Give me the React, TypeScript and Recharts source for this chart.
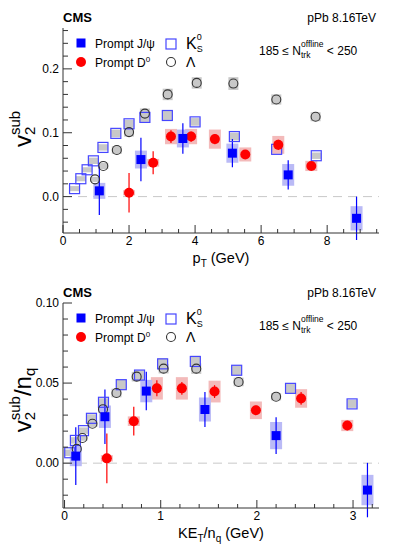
import React from "react";
import { ScatterChart, Scatter, XAxis, YAxis, ErrorBar, ReferenceLine, Legend } from "recharts";

const FONT = "'Liberation Sans', Arial, Helvetica, sans-serif";
const AXIS = "#333";
const BLUE = "#0000ff";
const RED = "#ff0000";
const KBLUE = "#4646ff";
const GRAY_BOX = "#c8c8c8";
const BLUE_BOX = "#babaf6";
const RED_BOX = "#f3baba";

// ---- top panel: v2 vs pT ----
const jpsiPt = [1.1, 2.36, 3.63, 5.13, 6.82, 8.89];
const jpsiV2 = [0.009, 0.058, 0.091, 0.068, 0.034, -0.034];
const jpsiStat = [0.038, 0.034, 0.024, 0.022, 0.023, 0.034];
const jpsiSyst = [0.0125, 0.014, 0.014, 0.015, 0.017, 0.019];

const d0Pt = [2.0, 2.73, 3.27, 3.88, 4.6, 5.52, 6.52, 7.52];
const d0V2 = [0.006, 0.053, 0.094, 0.094, 0.09, 0.066, 0.081, 0.048];
const d0Stat = [0.031, 0.018, 0.01, 0.008, 0.008, 0.006, 0.008, 0.006];
const d0Syst = [0.004, 0.006, 0.012, 0.012, 0.015, 0.011, 0.014, 0.008];

const k0sPt = [0.35, 0.54, 0.73, 0.92, 1.21, 1.6, 2.0, 2.48, 3.16, 4.0, 5.19, 6.47, 7.67];
const k0sV2 = [0.0125, 0.028, 0.042, 0.056, 0.077, 0.099, 0.114, 0.124, 0.127, 0.117, 0.094, 0.074, 0.064];
const k0sSyst = [0.004, 0.004, 0.004, 0.005, 0.005, 0.006, 0.006, 0.007, 0.007, 0.006, 0.006, 0.005, 0.005];

const lamPt = [0.97, 1.22, 1.63, 2.0, 2.48, 3.17, 4.05, 5.16, 6.46, 7.65];
const lamV2 = [0.027, 0.048, 0.073, 0.101, 0.13, 0.16, 0.178, 0.177, 0.152, 0.125];
const lamSyst = [0.004, 0.005, 0.006, 0.007, 0.008, 0.009, 0.009, 0.01, 0.008, 0.007];

// ---- bottom panel: v2/nq vs KET/nq ----
const jpsiKe = [0.117, 0.42, 0.85, 1.46, 2.2, 3.15];
const jpsiV2nq = [0.0044, 0.029, 0.045, 0.0335, 0.0172, -0.0168];
const jpsiStatNq = [0.018, 0.017, 0.012, 0.011, 0.0115, 0.017];
const jpsiSystNq = [0.0063, 0.007, 0.007, 0.0075, 0.0085, 0.0095];

const d0Ke = [0.44, 0.72, 0.96, 1.22, 1.56, 1.99, 2.46, 2.94];
const d0V2nq = [0.003, 0.0262, 0.0467, 0.0467, 0.0447, 0.033, 0.0404, 0.0235];
const d0StatNq = [0.0155, 0.009, 0.005, 0.004, 0.004, 0.003, 0.004, 0.003];
const d0SystNq = [0.002, 0.003, 0.007, 0.007, 0.0068, 0.0055, 0.0058, 0.0035];

const k0sKe = [0.054, 0.113, 0.197, 0.28, 0.405, 0.59, 0.78, 1.02, 1.36, 1.79, 2.35, 2.99];
const k0sV2nq = [0.0065, 0.0142, 0.0203, 0.028, 0.038, 0.049, 0.055, 0.062, 0.0635, 0.058, 0.0467, 0.037];
const k0sSystNq = [0.002, 0.002, 0.002, 0.0025, 0.0025, 0.003, 0.003, 0.0035, 0.0035, 0.003, 0.003, 0.0025];

const lamKe = [0.127, 0.186, 0.29, 0.4, 0.54, 0.75, 1.03, 1.37, 1.81, 2.2];
const lamV2nq = [0.0089, 0.0157, 0.0246, 0.0337, 0.0438, 0.054, 0.059, 0.059, 0.0507, 0.0415];
const lamSystNq = [0.0014, 0.0017, 0.002, 0.0023, 0.0027, 0.003, 0.003, 0.0033, 0.0027, 0.0023];

// ---- axis ticks ----
const ptTicks = [0, 0.5, 1, 1.5, 2, 2.5, 3, 3.5, 4, 4.5, 5, 5.5, 6, 6.5, 7, 7.5, 8, 8.5, 9, 9.5];
const v2Ticks = [-0.04, -0.02, 0, 0.02, 0.04, 0.06, 0.08, 0.1, 0.12, 0.14, 0.16, 0.18, 0.2, 0.22, 0.24, 0.26];
const keTicks = [0, 0.2, 0.4, 0.6, 0.8, 1, 1.2, 1.4, 1.6, 1.8, 2, 2.2, 2.4, 2.6, 2.8, 3, 3.2];
const v2nqTicks = [-0.02, -0.01, 0, 0.01, 0.02, 0.03, 0.04, 0.05, 0.06, 0.07, 0.08, 0.09, 0.1];

type Pt = { x: number; y: number; stat: number; syst: number };
const rows = (xs: number[], ys: number[], syst: number[], stat?: number[]): Pt[] =>
  xs.map((x, i) => ({ x, y: ys[i], syst: syst[i], stat: stat ? stat[i] : 0 }));

const FilledSquare = (p: any) => <rect x={p.cx - 4.5} y={p.cy - 4.5} width={9} height={9} fill={BLUE} />;
const FilledCircle = (p: any) => <circle cx={p.cx} cy={p.cy} r={5} fill={RED} />;
const OpenSquare = (p: any) => (
  <rect x={p.cx - 5} y={p.cy - 5} width={10} height={10} fill="none" stroke={KBLUE} strokeWidth={1.2} />
);
const OpenCircle = (p: any) => (
  <circle cx={p.cx} cy={p.cy} r={4.5} fill="none" stroke="#333" strokeWidth={1.1} />
);

type Side = "bottom" | "top" | "left" | "right";

function tickRenderer(side: Side, step: number, digits: number) {
  return (props: any) => {
    const { x, y, payload } = props;
    const v = payload.value as number;
    const major = Math.abs(v / step - Math.round(v / step)) < 1e-6;
    const horiz = side === "bottom" || side === "top";
    const len = horiz ? (major ? 8 : 4) : major ? 9 : 5;
    const label = Math.abs(v) < 1e-9 ? (0).toFixed(digits) : v.toFixed(digits);
    if (side === "bottom") {
      return (
        <g>
          <line x1={x} x2={x} y1={y} y2={y - len} stroke={AXIS} />
          {major && (
            <text x={x} y={y + 12} textAnchor="middle" fontSize={12} fontFamily={FONT} fill="#000">
              {label}
            </text>
          )}
        </g>
      );
    }
    if (side === "top") return <line x1={x} x2={x} y1={y} y2={y + len} stroke={AXIS} />;
    if (side === "left") {
      return (
        <g>
          <line x1={x} x2={x + len} y1={y} y2={y} stroke={AXIS} />
          {major && (
            <text x={x - 4} y={y} dy="0.36em" textAnchor="end" fontSize={12} fontFamily={FONT} fill="#000">
              {label}
            </text>
          )}
        </g>
      );
    }
    return <line x1={x} x2={x - len} y1={y} y2={y} stroke={AXIS} />;
  };
}

function LegendBox() {
  return (
    <svg width={399} height={80} style={{ display: "block" }} fontFamily={FONT}>
      <FilledSquare cx={81} cy={43} />
      <text x={95} y={47.5} fontSize={12}>Prompt J/ψ</text>
      <FilledCircle cx={81} cy={62} />
      <text x={95} y={66.5} fontSize={12}>
        Prompt D<tspan fontSize={8} dy={-5}>0</tspan>
      </text>
      <OpenSquare cx={171} cy={44} />
      <text x={186} y={49} fontSize={16}>
        K<tspan fontSize={9} dy={-9}>0</tspan>
        <tspan fontSize={9} dx={-5} dy={12}>S</tspan>
      </text>
      <OpenCircle cx={171} cy={62} />
      <text x={186} y={67} fontSize={14}>Λ</text>
    </svg>
  );
}

function Header(props: { height: number; xTitle: React.ReactNode; yTitle: React.ReactNode; yTitleAt: number }) {
  return (
    <svg
      width={399}
      height={props.height}
      style={{ position: "absolute", left: 0, top: 0, pointerEvents: "none" }}
      fontFamily={FONT}
    >
      <text x={63} y={22} fontSize={13} fontWeight="bold">CMS</text>
      <text x={376} y={22} fontSize={12} textAnchor="end">pPb 8.16TeV</text>
      <text x={259} y={55} fontSize={12}>
        185 ≤ N<tspan fontSize={8.5} dy={3}>trk</tspan>
        <tspan fontSize={8.5} dx={-9.4} dy={-11}>offline</tspan>
        <tspan fontSize={12} dy={8}> &lt; 250</tspan>
      </text>
      <text x={221} y={263} fontSize={14.5} textAnchor="middle">{props.xTitle}</text>
      <text transform={`translate(31,${props.yTitleAt}) rotate(-90)`} fontSize={24} textAnchor="middle">
        {props.yTitle}
      </text>
    </svg>
  );
}

type Series = { data: Pt[]; shape: any; box: string; line: string; name: string };

function Panel(props: {
  height: number;
  xDomain: [number, number];
  yDomain: [number, number];
  xTicks: number[];
  yTicks: number[];
  xStep: number;
  yStep: number;
  xDigits: number;
  yDigits: number;
  series: Series[];
  xTitle: React.ReactNode;
  yTitle: React.ReactNode;
  yTitleAt: number;
}) {
  const { height, xDomain, yDomain, xTicks, yTicks, xStep, yStep, xDigits, yDigits, series } = props;
  const bottomMargin = height - 233 - 30;
  return (
    <div style={{ position: "relative", width: 399, height }}>
      <ScatterChart width={399} height={height} margin={{ top: 28, right: 20, bottom: bottomMargin, left: 20 }}>
        <XAxis
          xAxisId="b"
          type="number"
          dataKey="x"
          orientation="bottom"
          domain={xDomain}
          allowDataOverflow
          ticks={xTicks}
          interval={0}
          height={30}
          tickSize={0}
          tickMargin={0}
          tickLine={false}
          axisLine={{ stroke: AXIS }}
          tick={tickRenderer("bottom", xStep, xDigits)}
        />
        <XAxis
          xAxisId="t"
          type="number"
          orientation="top"
          domain={xDomain}
          allowDataOverflow
          ticks={xTicks}
          interval={0}
          height={0}
          tickSize={0}
          tickMargin={0}
          tickLine={false}
          axisLine={{ stroke: AXIS }}
          tick={tickRenderer("top", xStep, xDigits)}
        />
        <YAxis
          yAxisId="l"
          type="number"
          dataKey="y"
          orientation="left"
          domain={yDomain}
          allowDataOverflow
          ticks={yTicks}
          interval={0}
          width={43}
          tickSize={0}
          tickMargin={0}
          tickLine={false}
          axisLine={{ stroke: AXIS }}
          tick={tickRenderer("left", yStep, yDigits)}
        />
        <YAxis
          yAxisId="r"
          type="number"
          orientation="right"
          domain={yDomain}
          allowDataOverflow
          ticks={yTicks}
          interval={0}
          width={0}
          tickSize={0}
          tickMargin={0}
          tickLine={false}
          axisLine={{ stroke: AXIS }}
          tick={tickRenderer("right", yStep, yDigits)}
        />
        <ReferenceLine xAxisId="b" yAxisId="l" y={0} stroke="#c8c8c8" strokeDasharray="9 6" />
        {series.map((s) => (
          <Scatter
            key={s.name}
            name={s.name}
            xAxisId="b"
            yAxisId="l"
            data={s.data}
            shape={s.shape}
            isAnimationActive={false}
          >
            <ErrorBar
              dataKey="syst"
              direction="y"
              width={0}
              stroke={s.box}
              strokeWidth={s.name.startsWith("Prompt") ? 12 : 10}
              isAnimationActive={false}
            />
            <ErrorBar dataKey="stat" direction="y" width={0} stroke={s.line} strokeWidth={1.2} isAnimationActive={false} />
          </Scatter>
        ))}
        <Legend
          verticalAlign="middle"
          align="center"
          layout="horizontal"
          wrapperStyle={{ position: "absolute", left: 0, top: 0, width: 399, height: 80 }}
          content={() => <LegendBox />}
        />
      </ScatterChart>
      <Header height={height} xTitle={props.xTitle} yTitle={props.yTitle} yTitleAt={props.yTitleAt} />
    </div>
  );
}

export default function App() {
  const topSeries: Series[] = [
    { name: "K0S", data: rows(k0sPt, k0sV2, k0sSyst), shape: OpenSquare, box: GRAY_BOX, line: KBLUE },
    { name: "Lambda", data: rows(lamPt, lamV2, lamSyst), shape: OpenCircle, box: GRAY_BOX, line: "#333" },
    { name: "Prompt D0", data: rows(d0Pt, d0V2, d0Syst, d0Stat), shape: FilledCircle, box: RED_BOX, line: RED },
    { name: "Prompt J/psi", data: rows(jpsiPt, jpsiV2, jpsiSyst, jpsiStat), shape: FilledSquare, box: BLUE_BOX, line: BLUE },
  ];
  const bottomSeries: Series[] = [
    { name: "K0S", data: rows(k0sKe, k0sV2nq, k0sSystNq), shape: OpenSquare, box: GRAY_BOX, line: KBLUE },
    { name: "Lambda", data: rows(lamKe, lamV2nq, lamSystNq), shape: OpenCircle, box: GRAY_BOX, line: "#333" },
    { name: "Prompt D0", data: rows(d0Ke, d0V2nq, d0SystNq, d0StatNq), shape: FilledCircle, box: RED_BOX, line: RED },
    { name: "Prompt J/psi", data: rows(jpsiKe, jpsiV2nq, jpsiSystNq, jpsiStatNq), shape: FilledSquare, box: BLUE_BOX, line: BLUE },
  ];
  return (
    <div style={{ position: "absolute", left: 0, top: 0, width: 399, height: 549, background: "#fff" }}>
      <Panel
        height={275}
        xDomain={[0, 9.57]}
        yDomain={[-0.057, 0.264]}
        xTicks={ptTicks}
        yTicks={v2Ticks}
        xStep={2}
        yStep={0.1}
        xDigits={0}
        yDigits={1}
        series={topSeries}
        yTitleAt={129}
        xTitle={
          <>
            p<tspan fontSize={10} dy={4}>T</tspan>
            <tspan dy={-4}> (GeV)</tspan>
          </>
        }
        yTitle={
          <>
            v<tspan fontSize={15} dy={4}>2</tspan>
            <tspan fontSize={15} dx={-8.3} dy={-15}>sub</tspan>
          </>
        }
      />
      <Panel
        height={274}
        xDomain={[-0.016, 3.27]}
        yDomain={[-0.028, 0.1]}
        xTicks={keTicks}
        yTicks={v2nqTicks}
        xStep={1}
        yStep={0.05}
        xDigits={0}
        yDigits={2}
        series={bottomSeries}
        yTitleAt={125}
        xTitle={
          <>
            KE<tspan fontSize={10} dy={4}>T</tspan>
            <tspan dy={-4}>/n</tspan>
            <tspan fontSize={10} dy={4}>q</tspan>
            <tspan dy={-4}> (GeV)</tspan>
          </>
        }
        yTitle={
          <>
            v<tspan fontSize={15} dy={4}>2</tspan>
            <tspan fontSize={15} dx={-8.3} dy={-15}>sub</tspan>
            <tspan dy={11}>/n</tspan>
            <tspan fontSize={15} dy={4}>q</tspan>
          </>
        }
      />
    </div>
  );
}
